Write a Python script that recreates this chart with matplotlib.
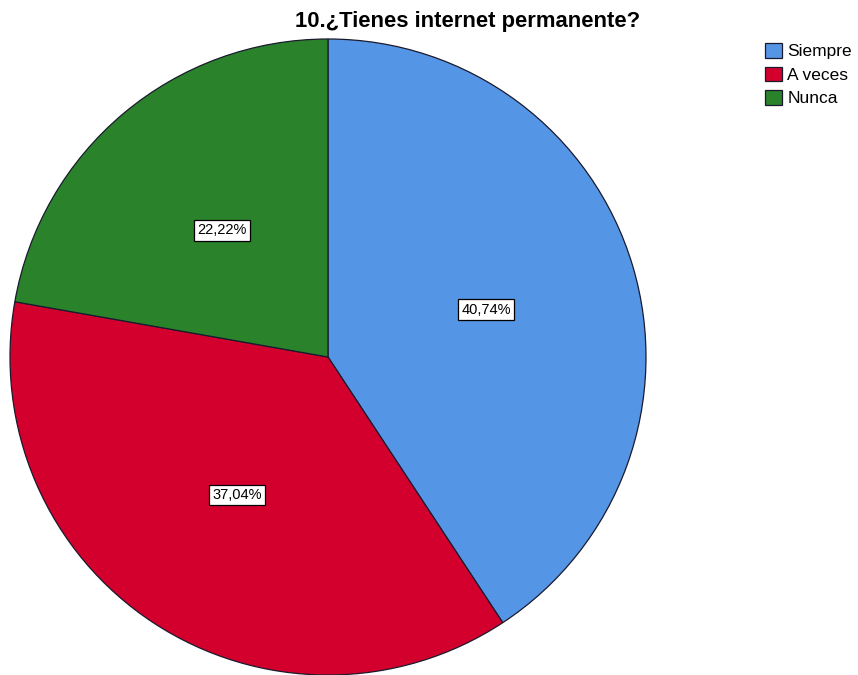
import matplotlib
matplotlib.use("Agg")
import matplotlib.pyplot as plt

categories = ["Siempre", "A veces", "Nunca"]
values = [40.74, 37.04, 22.22]
colors = ["#5595E5", "#D3002E", "#2A822A"]
title = "10.¿Tienes internet permanente?"

plt.rcParams['font.family'] = ['Liberation Sans', 'DejaVu Sans']

fig = plt.figure(figsize=(8.58, 6.75), dpi=100)
ax = fig.add_axes([0, 0, 1, 1])

wedges, texts, autotexts = ax.pie(
    values, colors=colors, startangle=90, counterclock=False,
    center=(328, 318), radius=318, frame=False,
    autopct=lambda p: f"{p:.2f}%".replace(".", ","), pctdistance=0.52,
    wedgeprops=dict(edgecolor="#1a1a2e", linewidth=0.9),
    textprops=dict(fontsize=10.5, color="black"),
)
for t in autotexts:
    t.set_bbox(dict(facecolor="white", edgecolor="black", linewidth=0.9,
                    boxstyle="square,pad=0.22"))

ax.set_xlim(0, 858)
ax.set_ylim(0, 675)
ax.set_aspect("equal")
ax.axis("off")

fig.text(468 / 858, 1 - 21 / 675, title, ha="center", va="center",
         fontsize=15.8, fontweight="bold")

leg = fig.legend(wedges, categories, loc="upper left",
                 bbox_to_anchor=(765 / 858, 1 - 43 / 675),
                 frameon=False, fontsize=12.5, handlelength=0.98,
                 handleheight=0.92, handletextpad=0.3, labelspacing=0.42,
                 borderpad=0, borderaxespad=0)

fig.savefig("out.png", dpi=100)
